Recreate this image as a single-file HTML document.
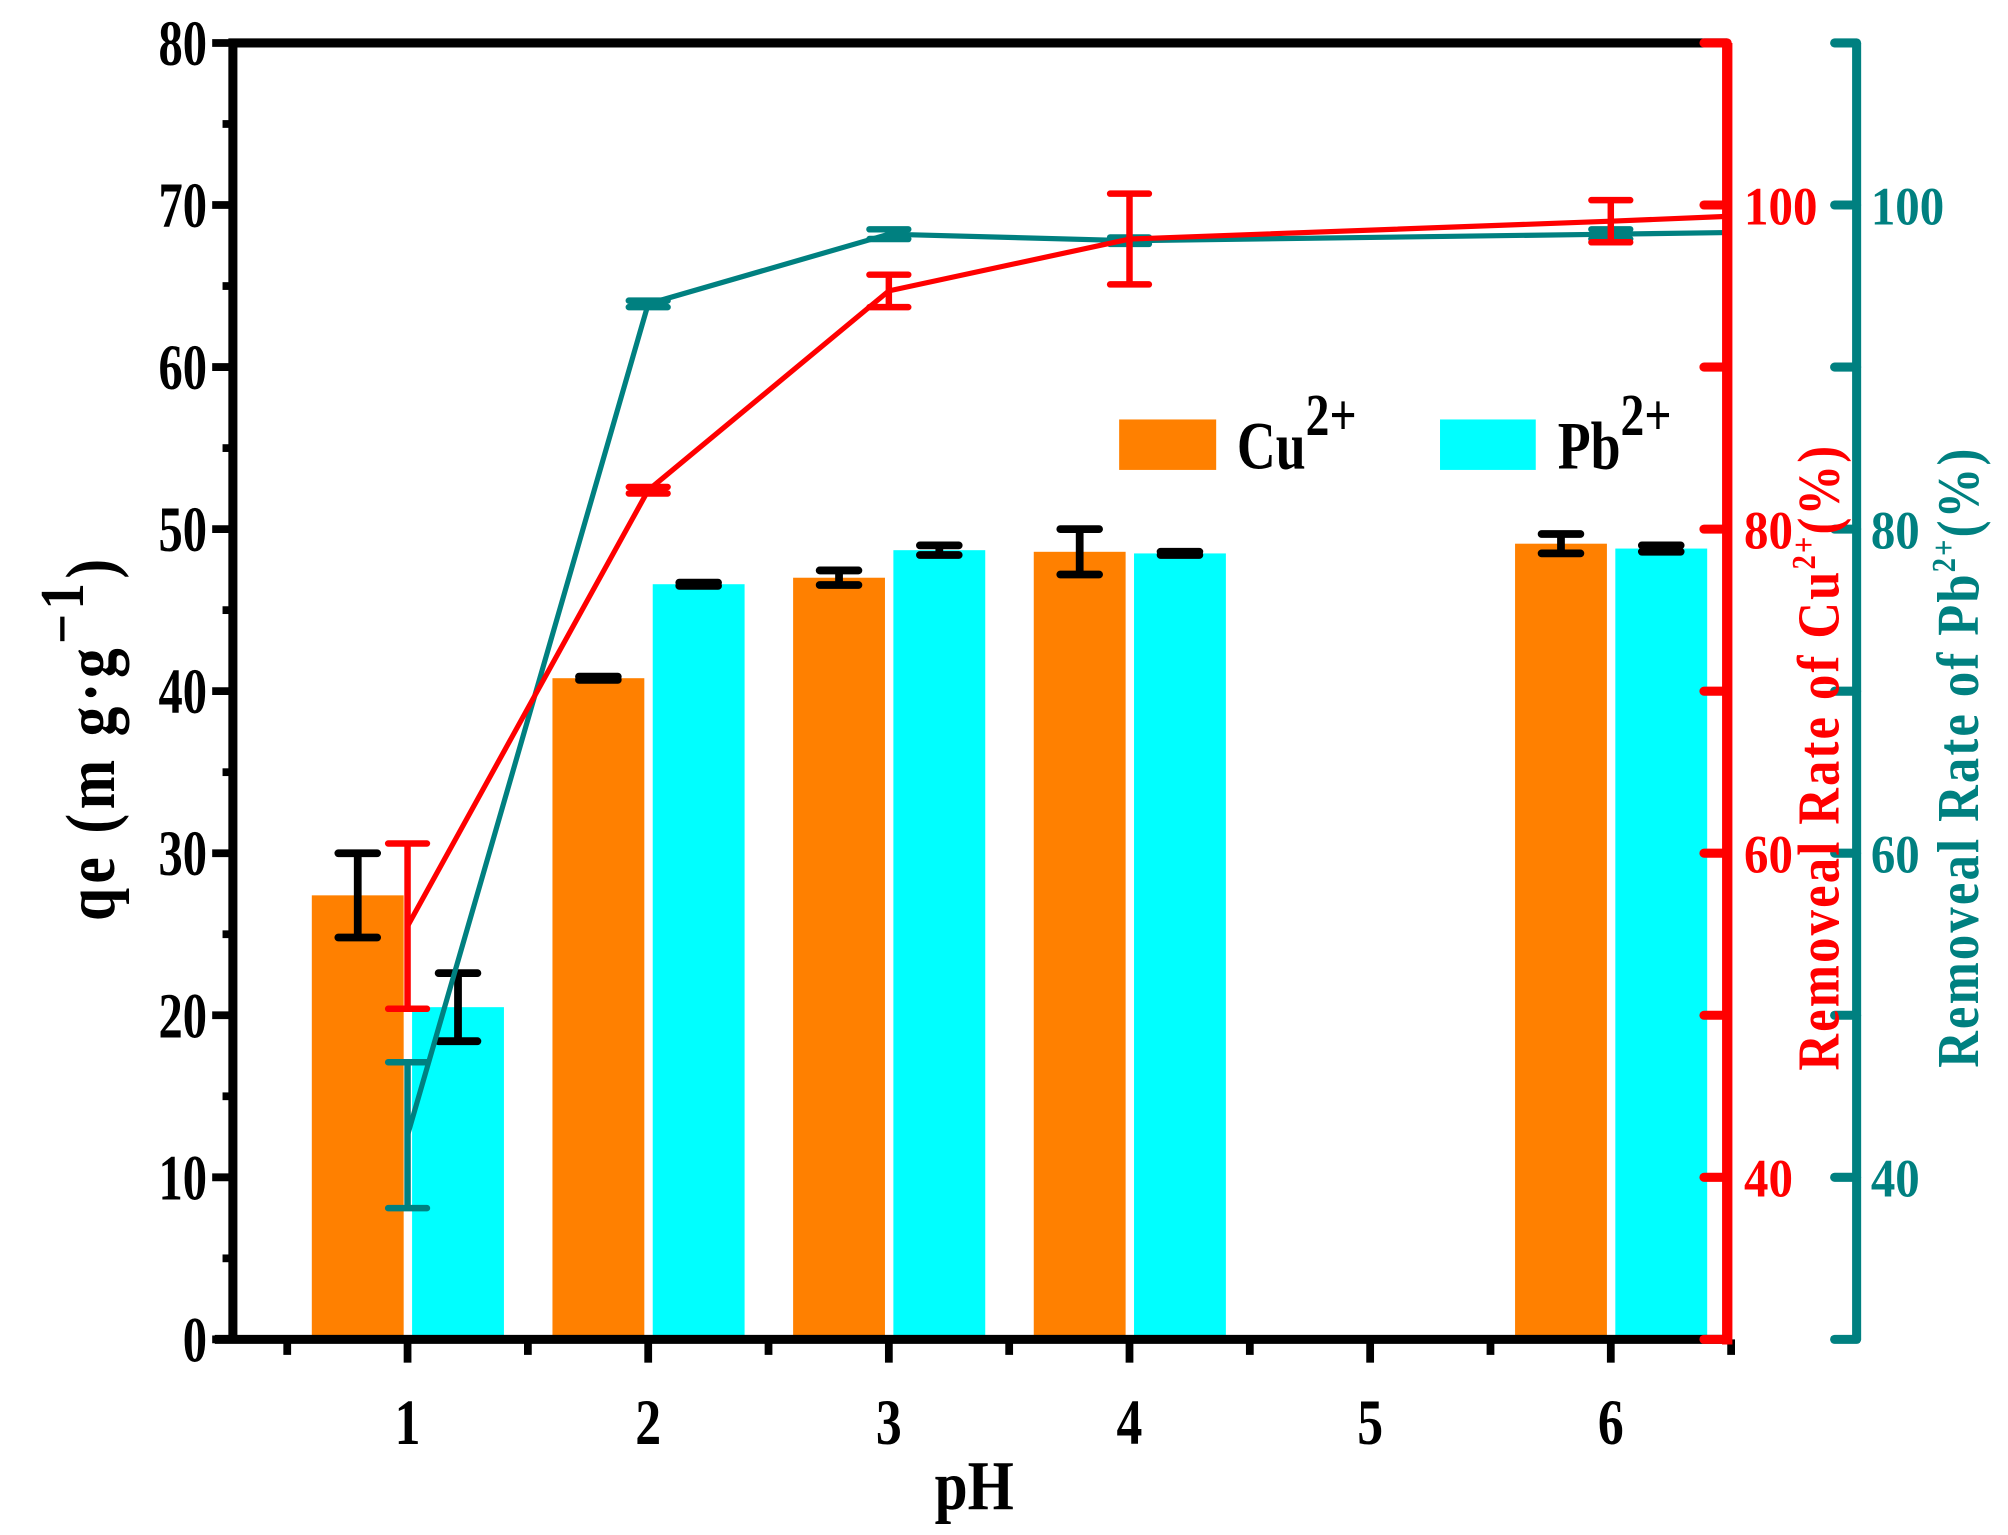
<!DOCTYPE html>
<html><head><meta charset="utf-8"><style>
html,body{margin:0;padding:0;background:#fff;}
svg{display:block;}
text{font-family:"Liberation Serif",serif;font-weight:bold;}
</style></head><body>
<svg id="chart" width="2008" height="1535" viewBox="0 0 1552 1186" xmlns="http://www.w3.org/2000/svg">
<g id="bars"></g>
<g id="lines"></g>
<g id="axes"></g>
<g>
 <rect x="865" y="324" width="75" height="39" fill="#ff8000"/>
 <text x="956" y="362" font-size="52" transform="translate(956 0) scale(0.8 1) translate(-956 0)">Cu<tspan dy="-26" font-size="46">2+</tspan></text>
 <rect x="1113" y="324" width="74" height="39" fill="#00ffff"/>
 <text x="1204" y="362" font-size="52" transform="translate(1204 0) scale(0.8 1) translate(-1204 0)">Pb<tspan dy="-26" font-size="46">2+</tspan></text>
</g>
<text transform="translate(88 570) rotate(-90) scale(0.85 1)" text-anchor="middle" font-size="54" letter-spacing="4">qe (m g·g<tspan dy="-24" font-size="48">−1</tspan><tspan dy="24">)</tspan></text>
<text x="753" y="1166" text-anchor="middle" font-size="54" transform="translate(753 0) scale(0.85 1) translate(-753 0)">pH</text>
<text transform="translate(1421 585) rotate(-90) scale(0.85 1)" text-anchor="middle" font-size="46" letter-spacing="2" fill="#ff0000">Removeal Rate of Cu<tspan dy="-18" font-size="26">2+</tspan><tspan dy="18">(%)</tspan></text>
<text transform="translate(1529 585) rotate(-90) scale(0.85 1)" text-anchor="middle" font-size="46" letter-spacing="2" fill="#008080">Removeal Rate of Pb<tspan dy="-18" font-size="26">2+</tspan><tspan dy="18">(%)</tspan></text>
</svg>
<script>
const categories=[1,2,3,4,5,6];
const cuQe=[27.4,40.8,47.0,48.6,null,49.1];
const cuQeErr=[2.6,0.1,0.45,1.4,null,0.6];
const pbQe=[20.5,46.6,48.7,48.5,null,48.8];
const pbQeErr=[2.1,0.1,0.3,0.1,null,0.2];
const ratePh=[1,2,3,4,6,6.5];
const cuRate=[55.5,82.4,94.7,97.9,99.0,99.3];
const cuRateErr=[5.1,0.2,1.0,2.8,1.3,0];
const pbRate=[42.6,93.9,98.2,97.8,98.2,98.3];
const pbRateErr=[4.5,0.2,0.3,0.2,0.3,0];
const yTicks=[0,10,20,30,40,50,60,70,80];
const rTicks=[40,60,80,100];

const NS="http://www.w3.org/2000/svg";
const L=180,R=1335,T=33,B=1035;
const xS=p=>315+(p-1)*186;
const yS=v=>B-(v/80)*(B-T);
const rS=v=>B-((v-30)/80)*(B-T);
function mk(tag,attrs,parent){const e=document.createElementNS(NS,tag);for(const k in attrs)e.setAttribute(k,attrs[k]);parent.appendChild(e);return e;}
const gb=document.getElementById('bars'),gl=document.getElementById('lines'),ga=document.getElementById('axes');
const bw=71;
function errbar(g,x,y1,y2,col,w,sw){
 const e=mk('path',{d:`M${x},${y1}V${y2}M${x-w},${y1}h${2*w}M${x-w},${y2}h${2*w}`,stroke:col,'stroke-width':sw,fill:'none','stroke-linecap':'round'},g);
 
 
}
categories.forEach((c,i)=>{
 if(cuQe[i]!=null){
  const x=xS(c)-38.5;
  const r=mk('rect',{x:x-bw/2,y:yS(cuQe[i]),width:bw,height:B-yS(cuQe[i]),fill:'#ff8000'},gb);
  
  
  errbar(gb,x,yS(cuQe[i]+cuQeErr[i]),yS(cuQe[i]-cuQeErr[i]),'#000',15,6);
 }
 if(pbQe[i]!=null){
  const x=xS(c)+39;
  const r=mk('rect',{x:x-bw/2,y:yS(pbQe[i]),width:bw,height:B-yS(pbQe[i]),fill:'#00ffff'},gb);
  
  
  errbar(gb,x,yS(pbQe[i]+pbQeErr[i]),yS(pbQe[i]-pbQeErr[i]),'#000',15,6);
 }
});
function series(vals,errs,col,name){
 const pts=ratePh.map((p,i)=>[Math.min(xS(p),R),rS(vals[i])]);
 const l=mk('polyline',{points:pts.map(p=>p.join(',')).join(' '),stroke:col,'stroke-width':4,fill:'none'},gl);
 
 
 ratePh.forEach((p,i)=>{ if(errs[i]>0) errbar(gl,xS(p),rS(vals[i]+errs[i]),rS(vals[i]-errs[i]),col,15,5); });
}
series(pbRate,pbRateErr,'#008080','pb-rate');
series(cuRate,cuRateErr,'#ff0000','cu-rate');
mk('path',{d:`M${L},${B}V${T}H${R}`,stroke:'#000','stroke-width':7,fill:'none'},ga);
mk('path',{d:`M${L-14},${B}H${R}`,stroke:'#000','stroke-width':7,fill:'none'},ga);
yTicks.forEach(v=>{
 mk('line',{x1:L-16,x2:L,y1:yS(v),y2:yS(v),stroke:'#000','stroke-width':6},ga);
 const t=mk('text',{x:L-20,y:yS(v)+17,'text-anchor':'end','font-size':50,transform:`translate(${L-20} 0) scale(0.75 1) translate(${-(L-20)} 0)`},ga);
 t.textContent=v;
 
 
 if(v<80) mk('line',{x1:L-8,x2:L,y1:yS(v+5),y2:yS(v+5),stroke:'#000','stroke-width':6},ga);
});
categories.forEach(c=>{
 mk('line',{x1:xS(c),x2:xS(c),y1:B,y2:B+18,stroke:'#000','stroke-width':6},ga);
 mk('line',{x1:xS(c-0.5),x2:xS(c-0.5),y1:B,y2:B+12,stroke:'#000','stroke-width':6},ga);
 const t=mk('text',{x:xS(c),y:1116,'text-anchor':'middle','font-size':50,transform:`translate(${xS(c)} 0) scale(0.8 1) translate(${-xS(c)} 0)`},ga);
 t.textContent=c;
 
 
});
mk('line',{x1:xS(6.5),x2:xS(6.5),y1:B,y2:B+12,stroke:'#000','stroke-width':6},ga);
mk('line',{x1:R,x2:R,y1:T,y2:B+4,stroke:'#ff0000','stroke-width':8},ga);
mk('line',{x1:1435,x2:1435,y1:T,y2:B,stroke:'#008080','stroke-width':7},ga);
for(let v=30;v<=110;v+=10){
 mk('line',{x1:R-18,x2:R,y1:rS(v),y2:rS(v),stroke:'#ff0000','stroke-width':7,'stroke-linecap':'round'},ga);
 mk('line',{x1:1418,x2:1435,y1:rS(v),y2:rS(v),stroke:'#008080','stroke-width':7,'stroke-linecap':'round'},ga);
}
rTicks.forEach(v=>{
 const t=mk('text',{x:1348,y:rS(v)+15,'font-size':42,fill:'#ff0000',transform:`translate(1348 0) scale(0.9 1) translate(-1348 0)`},ga);
 t.textContent=v;
 
 
 const u=mk('text',{x:1446,y:rS(v)+15,'font-size':42,fill:'#008080',transform:`translate(1446 0) scale(0.9 1) translate(-1446 0)`},ga);
 u.textContent=v;
 
 
});
</script>
</body></html>
